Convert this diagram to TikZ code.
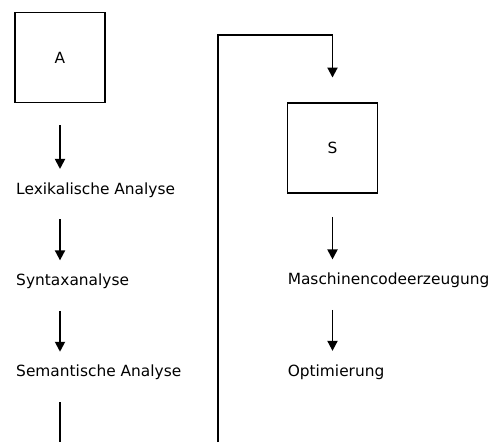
\documentclass[tikz,border=0pt]{standalone}
\usepackage{fontspec}
\setmainfont{DejaVu Sans}
\usetikzlibrary{positioning, arrows.meta}

\begin{document}
\begin{tikzpicture}[
    block/.style={
        rectangle,
        draw,
        line width=1.9pt,
        minimum size=90pt,
        inner sep=0pt,
        font=\fontsize{15.4}{18}\selectfont
    },
    phase/.style={
        inner sep=0pt,
        text height=11pt,
        text depth=3pt,
        font=\fontsize{15.4}{18}\selectfont
    },
    arrow/.style={
        -{Triangle[length=10pt,width=10pt]},
        line width=1.9pt,
        shorten <=22pt,
        shorten >=14pt
    },
    line/.style={
        line width=1.9pt
    }
]
\useasboundingbox (0,0) rectangle (489pt,-442pt);

% Analysephase
\node[block] (A) at (60pt,-57.5pt) {A};
\node[phase, below=79.5pt of A.south west, anchor=north west, xshift=2pt] (lex) {Lexikalische Analyse};
\node[phase, below=77pt of lex.south west, anchor=north west] (syn) {Syntaxanalyse};
\node[phase, below=77pt of syn.south west, anchor=north west] (sem) {Semantische Analyse};

% Synthesephase
\node[block] (S) at (332.5pt,-148pt) {S};
\node[phase, below=79.5pt of S.south west, anchor=north west, xshift=1pt] (code) {Maschinencodeerzeugung};
\node[phase, below=77pt of code.south west, anchor=north west] (opt) {Optimierung};

\coordinate (semend) at (60pt,-442pt);
\coordinate (loopstart) at (218pt,-442pt);

\draw[arrow] (A.south) -- (A.south |- lex.north);
\draw[arrow] (lex.south -| A.south) -- (A.south |- syn.north);
\draw[arrow] (syn.south -| A.south) -- (A.south |- sem.north);
\draw[line, shorten <=22pt] (sem.south -| A.south) -- (semend);

% Rueckfuehrung
\draw[arrow, shorten <=0pt, shorten >=24.5pt] (loopstart) |- ([yshift=67.5pt]S.north) -- (S.north);
\draw[arrow, shorten <=23pt] (S.south) -- (S.south |- code.north);
\draw[arrow] (code.south -| S.south) -- (S.south |- opt.north);

\end{tikzpicture}
\end{document}
